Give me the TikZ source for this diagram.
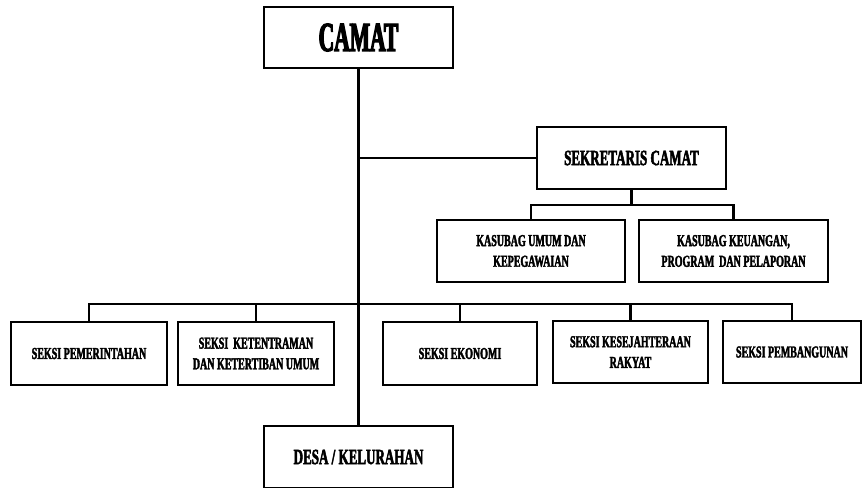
\documentclass[tikz,border=0pt]{standalone}
\usepackage{fontspec}
\newfontfamily\orgfont[FakeStretch=0.6,BoldFeatures={FakeBold=2.2}]{Liberation Serif}
\newfontfamily\kepalafont[FakeStretch=0.52,BoldFeatures={FakeBold=3}]{Liberation Serif}
\usetikzlibrary{positioning}
\tikzset{
    unit/.style 2 args={draw=black, line width=2.2pt, fill=white, align=center,
        minimum width=#1*0.75pt, minimum height=#2*0.75pt, inner sep=2pt},
    kecil/.style={font=\orgfont\bfseries\fontsize{12.5}{15.5}\selectfont},
    sedang/.style={font=\orgfont\bfseries\fontsize{16.3}{19}\selectfont},
    besar/.style={font=\kepalafont\bfseries\fontsize{31}{32}\selectfont},
    garis/.style={line width=1.6pt, line cap=rect}
}
\begin{document}
\begin{tikzpicture}[x=0.75pt, y=-0.75pt]
    \clip (0,0) rectangle (866,487);
    \fill[white] (0,0) rectangle (866,487);

    \node (camat) [unit={189}{61}, besar] at (358.5,37.5) {CAMAT};
    \node (sekcam) [unit={189}{62}, sedang] at (631.5,158) {SEKRETARIS CAMAT};
    \node (umum) [unit={188}{62}, kecil] at (531,251) {KASUBAG UMUM DAN\\KEPEGAWAIAN};
    \node (keuangan) [unit={189}{62}, kecil] at (733.5,251) {KASUBAG KEUANGAN,\\PROGRAM\ \ DAN PELAPORAN};

    \node (pemerintahan) [unit={156}{63}, kecil] at (89,353.5) {SEKSI PEMERINTAHAN};
    \node (ketentraman) [unit={156}{63}, kecil] at (256,353.5) {SEKSI\ \ KETENTRAMAN\\DAN KETERTIBAN UMUM};
    \node (ekonomi) [unit={154}{63}, kecil] at (460,353.5) {SEKSI EKONOMI};
    \node (kesejahteraan) [unit={155}{62}, kecil] at (630.5,352) {SEKSI KESEJAHTERAAN\\RAKYAT};
    \node (pembangunan) [unit={138}{62}, kecil] at (792,352) {SEKSI PEMBANGUNAN};

    \node (desa) [unit={189}{62}, sedang] at (358.5,457) {DESA / KELURAHAN};

    \coordinate (jsek) at (camat.south |- sekcam.west);
    \coordinate (sekbus) at (sekcam.south |- 0,205);
    \coordinate (seksibus) at (camat.south |- 0,304);

    \draw[garis] (camat.south) -- (desa.north);
    \draw[garis] (jsek) -- (sekcam.west);
    \draw[garis] (sekcam.south) -- (sekbus);
    \draw[garis] (umum.north) |- (sekbus) -| (keuangan.north);
    \draw[garis] (pemerintahan.north |- seksibus) -- (pembangunan.north |- seksibus);
    \foreach \s in {pemerintahan, ketentraman, ekonomi, kesejahteraan, pembangunan}
        \draw[garis] (\s.north) -- (\s.north |- seksibus);
\end{tikzpicture}
\end{document}
